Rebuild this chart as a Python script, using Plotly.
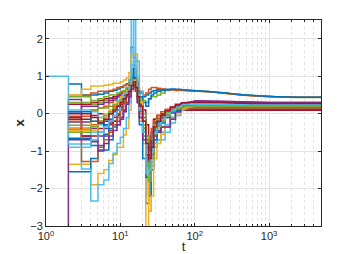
import plotly.graph_objects as go

# time grid (log axis)
T = [1, 2, 3, 4, 5, 6, 7, 8, 9, 10,
     11, 12, 13, 14, 15, 16, 17, 18,
     20, 22, 24, 26, 28, 31, 35, 40, 47, 55,
     65, 80, 100, 130, 180, 260, 400, 700, 1300, 2500, 5000]

N = None
S0 = [N, 0.79, 0.5, 0.5, 0.52, 0.55, 0.6, 0.62, 0.66, 0.7,
      0.75, 0.8, 0.9, 1.77, 1.5, 1.0, 0.7, 0.55,
      0.45, 0.5, 0.55, 0.6, 0.62, 0.64, 0.65, 0.65, 0.65, 0.64,
      0.63, 0.62, 0.61, 0.6, 0.58, 0.55, 0.51, 0.47, 0.45, 0.44, 0.44]
S1 = [N, -0.07, -0.07, 0.1, 0.15, 0.2, 0.3, 0.35, 0.45, 0.5,
      0.55, 0.6, 0.7, 0.85, 0.95, 0.8, 0.4, 0.1,
      -0.3, -0.9, -1.2, -0.6, -0.15, -0.05, 0.0, 0.04, 0.07, 0.09,
      0.1, 0.1, 0.1, 0.1, 0.1, 0.1, 0.1, 0.1, 0.1, 0.1, 0.1]
S2 = [N, -1.35, -1.35, -1.9, -1.6, -1.5, -1.25, -1.1, -0.9, -0.9,
      -0.57, -0.4, 0.1, 0.6, 0.75, 0.6, 0.3, -0.2,
      -0.8, -1.4, -1.1, -0.7, -0.35, -0.2, -0.05, 0.05, 0.12, 0.17,
      0.2, 0.21, 0.21, 0.21, 0.21, 0.21, 0.21, 0.21, 0.21, 0.21, 0.21]
S3 = [-6.0, 0.38, -0.6, -0.75, -0.5, -0.4, -0.3, -0.1, 0.0, 0.15,
      0.3, 0.45, 0.6, 0.8, 0.9, 0.7, 0.3, -0.1,
      -0.6, -1.1, -0.9, -0.6, -0.4, -0.3, -0.2, -0.1, 0.05, 0.15,
      0.23, 0.28, 0.31, 0.31, 0.3, 0.3, 0.3, 0.29, 0.29, 0.29, 0.29]
S4 = [N, 0.45, 0.45, 0.25, 0.3, 0.35, 0.4, 0.45, 0.5, 0.55,
      0.6, 0.65, 0.75, 0.9, 1.1, 0.9, 0.6, 0.45,
      0.35, 0.3, 0.4, 0.45, 0.45, 0.5, 0.55, 0.62, 0.64, 0.64,
      0.63, 0.62, 0.61, 0.6, 0.58, 0.55, 0.51, 0.47, 0.45, 0.43, 0.43]
S5 = [1.0, -0.81, -0.81, -0.5, -0.3, -0.2, 0.0, 0.2, 0.35, 0.5,
      0.6, 0.7, 0.9, 3.0, 3.0, 0.9, 0.6, 0.2,
      -0.4, -1.0, -1.8, -1.3, -0.9, -0.7, -0.5, -0.3, -0.1, 0.05,
      0.14, 0.19, 0.21, 0.22, 0.22, 0.22, 0.22, 0.22, 0.22, 0.22, 0.22]
S6 = [N, 0.25, 0.25, 0.3, 0.35, 0.4, 0.42, 0.45, 0.5, 0.55,
      0.6, 0.65, 0.75, 0.8, 0.85, 0.7, 0.5, 0.3,
      0.1, -0.3, -0.8, -0.5, -0.15, -0.05, 0.0, 0.04, 0.07, 0.08,
      0.09, 0.09, 0.09, 0.09, 0.09, 0.09, 0.09, 0.09, 0.09, 0.09, 0.09]
S7 = [N, -1.55, -1.55, -1.2, -0.97, -0.97, -0.7, -0.36, -0.3, -0.1,
      0.1, 0.3, 0.55, 0.8, 1.3, 0.9, 0.4, -0.3,
      -1.2, -2.4, -1.6, -0.9, -0.4, -0.25, -0.1, 0.0, 0.1, 0.15,
      0.18, 0.2, 0.2, 0.2, 0.2, 0.2, 0.2, 0.2, 0.2, 0.2, 0.2]
S8 = [N, 0.49, 0.49, 0.55, 0.6, 0.6, 0.62, 0.65, 0.7, 0.72,
      0.75, 0.78, 0.82, 0.9, 0.95, 0.85, 0.7, 0.6,
      0.5, 0.55, 0.65, 0.7, 0.7, 0.68, 0.66, 0.64, 0.63, 0.62,
      0.62, 0.61, 0.6, 0.59, 0.57, 0.54, 0.5, 0.47, 0.45, 0.44, 0.44]
S9 = [N, 0.49, 0.65, 0.74, 0.74, 0.76, 0.78, 0.81, 0.81, 0.85,
      0.9, 0.95, 1.1, 1.59, 1.59, 1.59, 0.9, 0.4,
      -0.5, -3.5, -2.6, -1.5, -0.6, -0.4, -0.2, -0.05, 0.07, 0.15,
      0.2, 0.22, 0.22, 0.22, 0.22, 0.22, 0.22, 0.22, 0.22, 0.22, 0.22]
S10 = [N, -0.22, -0.22, -0.4, -0.6, -0.6, -0.45, -0.3, -0.2, -0.1,
       0.1, 0.3, 0.5, 0.7, 0.8, 0.65, 0.3, 0.0,
       -0.5, -1.2, -1.5, -1.0, -0.7, -0.5, -0.36, -0.36, -0.15, 0.05,
       0.18, 0.26, 0.33, 0.33, 0.33, 0.32, 0.31, 0.3, 0.3, 0.3, 0.3]
S11 = [N, -0.31, -0.31, 0.1, 0.15, 0.15, 0.2, 0.25, 0.3, 0.35,
       0.45, 0.55, 0.65, 0.8, 0.9, 0.75, 0.5, 0.2,
       -0.3, -0.9, -1.3, -0.9, -0.35, -0.2, -0.05, 0.05, 0.12, 0.17,
       0.19, 0.2, 0.2, 0.2, 0.2, 0.2, 0.2, 0.2, 0.2, 0.2, 0.2]
S12 = [N, -0.45, -1.48, -2.33, -1.9, -1.77, -1.33, -1.06, -0.8, -0.63,
       -0.4, -0.1, 0.3, 0.7, 2.6, 1.4, 1.4, 0.6,
       -0.2, -1.2, -1.77, -1.2, -0.8, -0.7, -0.5, -0.3, -0.1, 0.05,
       0.14, 0.2, 0.23, 0.23, 0.23, 0.23, 0.23, 0.23, 0.23, 0.23, 0.23]
S13 = [N, -0.15, -0.15, -0.05, 0.0, -0.2, -0.2, -0.05, 0.1, 0.25,
       0.4, 0.55, 0.7, 0.85, 0.95, 0.8, 0.5, 0.2,
       -0.2, -0.7, -1.0, -0.6, -0.25, -0.12, -0.03, 0.03, 0.07, 0.09,
       0.1, 0.1, 0.1, 0.1, 0.1, 0.1, 0.1, 0.1, 0.1, 0.1, 0.1]
S14 = [N, -0.66, -0.66, -0.85, -0.85, -0.55, -0.4, -0.2, 0.0, 0.2,
       0.4, 0.6, 0.75, 0.95, 1.2, 0.85, 0.6, 0.45,
       0.3, 0.2, 0.4, 0.5, 0.55, 0.6, 0.62, 0.64, 0.65, 0.65,
       0.64, 0.63, 0.62, 0.6, 0.58, 0.55, 0.51, 0.48, 0.45, 0.44, 0.44]
S15 = [N, -0.41, -0.41, -0.3, -0.2, -0.1, 0.05, 0.2, 0.3, 0.4,
       0.5, 0.6, 0.7, 0.8, 0.85, 0.75, 0.5, 0.2,
       -0.4, -1.0, -0.7, -0.4, -0.2, -0.05, 0.05, 0.12, 0.17, 0.2,
       0.21, 0.22, 0.22, 0.22, 0.22, 0.22, 0.22, 0.22, 0.22, 0.22, 0.22]
S16 = [N, -0.38, -0.38, -0.2, -0.1, 0.0, 0.1, 0.15, 0.25, 0.35,
       0.45, 0.55, 0.65, 0.75, 0.8, 0.7, 0.45, 0.1,
       -0.5, -1.5, -2.1, -1.4, -0.6, -0.4, -0.2, -0.05, 0.07, 0.15,
       0.21, 0.24, 0.25, 0.25, 0.25, 0.24, 0.24, 0.23, 0.23, 0.23, 0.23]
S17 = [N, 0.05, 0.2, 0.2, 0.25, 0.3, 0.35, 0.4, 0.45, 0.55,
       0.6, 0.65, 0.75, 0.85, 0.9, 0.75, 0.5, 0.25,
       -0.1, -0.6, -1.0, -0.9, -0.45, -0.3, -0.15, 0.0, 0.12, 0.21,
       0.27, 0.3, 0.3, 0.3, 0.3, 0.3, 0.29, 0.29, 0.28, 0.28, 0.28]
S18 = [N, 0.3, 0.3, 0.35, 0.4, 0.45, 0.5, 0.5, 0.55, 0.6,
       0.62, 0.7, 0.8, 0.95, 1.0, 0.8, 0.55, 0.35,
       0.0, -0.6, -1.1, -0.8, -0.3, -0.15, -0.05, 0.03, 0.09, 0.12,
       0.14, 0.15, 0.15, 0.15, 0.15, 0.15, 0.15, 0.15, 0.15, 0.15, 0.15]
S19 = [N, 0.1, 0.1, 0.05, -0.1, -0.1, 0.0, 0.1, 0.2, 0.3,
       0.4, 0.5, 0.6, 0.75, 0.85, 0.7, 0.4, 0.0,
       -0.6, -1.4, -2.0, -1.4, -0.9, -0.7, -0.7, -0.5, -0.25, -0.05,
       0.07, 0.13, 0.15, 0.15, 0.15, 0.15, 0.15, 0.15, 0.15, 0.15, 0.15]
S20 = [N, -0.1, -0.6, -0.6, -0.4, -0.3, -0.25, -0.2, -0.05, 0.1,
       0.3, 0.5, 0.65, 0.8, 0.9, 0.75, 0.45, 0.1,
       -0.4, -1.1, -1.4, -1.0, -0.5, -0.3, -0.15, 0.0, 0.1, 0.15,
       0.18, 0.2, 0.2, 0.2, 0.2, 0.2, 0.2, 0.2, 0.2, 0.2, 0.2]
S21 = [N, 0.05, 0.05, -0.2, -0.25, -0.3, -0.15, 0.05, 0.2, 0.35,
       0.5, 0.6, 0.75, 0.9, 1.0, 0.85, 0.5, 0.1,
       -0.5, -1.7, -2.2, -1.5, -0.7, -0.45, -0.25, -0.1, 0.02, 0.09,
       0.13, 0.15, 0.15, 0.15, 0.15, 0.15, 0.15, 0.15, 0.15, 0.15, 0.15]
S22 = [N, -0.2, -1.28, -1.28, -0.9, -0.7, -0.5, -0.3, -0.1, 0.1,
       0.3, 0.45, 0.6, 0.75, 0.85, 0.7, 0.4, 0.05,
       -0.5, -1.2, -1.6, -1.1, -0.5, -0.3, -0.15, -0.02, 0.07, 0.12,
       0.14, 0.15, 0.15, 0.15, 0.15, 0.15, 0.15, 0.15, 0.15, 0.15, 0.15]
S23 = [N, -0.45, -0.45, -0.45, -0.2, -0.1, 0.0, 0.15, 0.3, 0.45,
       0.55, 0.62, 0.72, 0.85, 0.9, 0.75, 0.5, 0.3,
       -0.2, -1.0, -2.6, -2.2, -1.2, -0.8, -0.55, -0.35, -0.15, 0.0,
       0.1, 0.17, 0.2, 0.2, 0.2, 0.2, 0.2, 0.2, 0.2, 0.2, 0.2]
S24 = [N, -0.7, -0.7, -0.7, -1.0, -0.8, -0.6, -0.45, -0.3, -0.15,
       0.05, 0.25, 0.45, 0.65, 0.75, 0.6, 0.3, -0.1,
       -0.7, -1.3, -1.1, -0.8, -0.6, -0.5, -0.36, -0.36, -0.15, 0.05,
       0.18, 0.27, 0.34, 0.34, 0.33, 0.33, 0.32, 0.31, 0.3, 0.3, 0.3]
S25 = [N, -0.5, -0.5, -0.35, -0.2, -0.05, 0.05, 0.15, 0.25, 0.35,
       0.45, 0.55, 0.65, 0.8, 0.85, 0.7, 0.45, 0.15,
       -0.4, -1.3, -1.8, -1.2, -0.55, -0.35, -0.2, -0.05, 0.07, 0.14,
       0.18, 0.2, 0.2, 0.2, 0.2, 0.2, 0.2, 0.2, 0.2, 0.2, 0.2]
S26 = [N, -0.9, -0.9, -0.7, -0.5, -0.35, -0.2, -0.05, 0.1, 0.3,
       0.45, 0.55, 0.7, 1.3, 1.4, 1.0, 0.5, 0.1,
       -0.5, -1.6, -1.5, -1.0, -0.5, -0.3, -0.15, 0.0, 0.1, 0.18,
       0.23, 0.25, 0.25, 0.25, 0.25, 0.25, 0.25, 0.25, 0.25, 0.25, 0.25]
S27 = [N, 0.0, 0.0, -0.1, -0.25, -0.15, 0.0, 0.1, 0.2, 0.3,
       0.4, 0.5, 0.6, 0.75, 0.85, 0.7, 0.45, 0.2,
       -0.2, -0.8, -1.2, -0.9, -0.35, -0.2, -0.05, 0.08, 0.18, 0.25,
       0.29, 0.3, 0.3, 0.3, 0.3, 0.29, 0.28, 0.27, 0.27, 0.27, 0.27]

SERIES = [S0, S1, S2, S3, S4, S5, S6, S7, S8, S9, S10, S11, S12, S13,
          S14, S15, S16, S17, S18, S19, S20, S21, S22, S23, S24, S25, S26, S27]

X_TICKS = [1, 10, 100, 1000]
X_TICK_TEXT = ["10<sup>0</sup>", "10<sup>1</sup>", "10<sup>2</sup>", "10<sup>3</sup>"]
Y_TICKS = [-3, -2, -1, 0, 1, 2]

COLORS = ["#0072BD", "#D95319", "#EDB120", "#7E2F8E", "#77AC30", "#4DBEEE", "#A2142F"]
SPLIT = T.index(65)  # stairs up to here, smooth settling afterwards

fig = go.Figure()
for i, s in enumerate(SERIES):
    col = COLORS[i % 7]
    fig.add_trace(go.Scatter(x=T[:SPLIT + 1], y=s[:SPLIT + 1], mode="lines", line_shape="hv",
                             line=dict(color=col, width=1.5),
                             showlegend=False, hoverinfo="skip"))
    fig.add_trace(go.Scatter(x=T[SPLIT:], y=s[SPLIT:], mode="lines", line_shape="spline",
                             line=dict(color=col, width=1.5),
                             showlegend=False, hoverinfo="skip"))

axcol = "#262626"
fig.update_layout(
    width=354, height=254,
    margin=dict(l=46, r=33, t=20, b=28),
    paper_bgcolor="white", plot_bgcolor="white",
    font=dict(family="Liberation Sans, Arial, sans-serif", size=11, color=axcol),
)
fig.update_xaxes(
    type="log", range=[0, 3.699], automargin=False,
    tickvals=X_TICKS, ticktext=X_TICK_TEXT,
    showline=True, linecolor=axcol, linewidth=1, mirror="ticks",
    ticks="inside", ticklen=3, tickcolor=axcol,
    showgrid=True, gridcolor="#e3e3e3", gridwidth=1,
    minor=dict(dtick="D1", showgrid=True, gridcolor="#e3e3e3", griddash="dot",
               ticks="inside", ticklen=2, tickcolor=axcol),
    zeroline=False,
    title=dict(text="t", standoff=2, font=dict(size=13)),
)
fig.update_yaxes(
    range=[-3, 2.5], tickvals=Y_TICKS, automargin=False,
    showline=True, linecolor=axcol, linewidth=1, mirror="ticks",
    ticks="inside", ticklen=3, tickcolor=axcol,
    showgrid=True, gridcolor="#e3e3e3", gridwidth=1,
    zeroline=False,
    title=dict(text="<b>x</b>", standoff=2, font=dict(size=13)),
)

fig.write_html("out.html", config={"displayModeBar": False},
               post_script="document.body.style.margin='0px';")
